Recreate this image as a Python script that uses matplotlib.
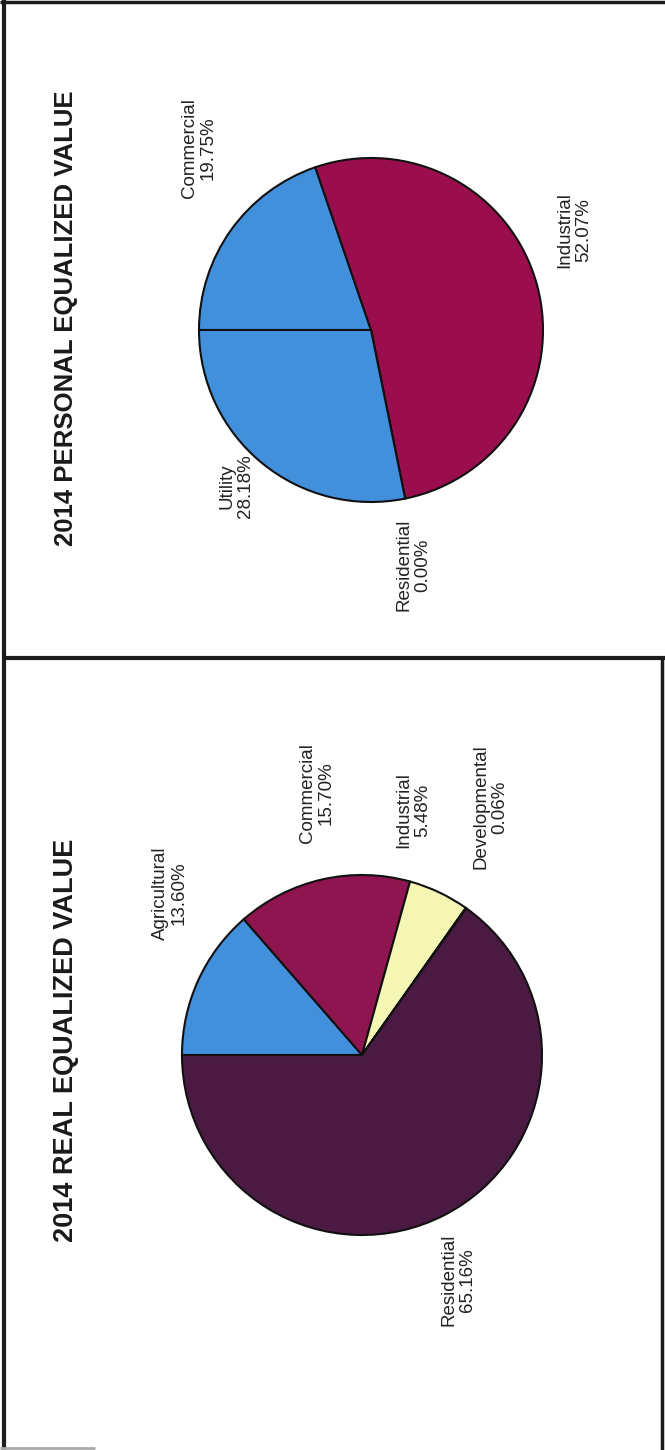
import matplotlib
matplotlib.use("Agg")
import matplotlib.pyplot as plt

# ─── Dati ────────────────────────────────────────────────────────────────────
personal_labels = ["Commercial", "Industrial", "Residential", "Utility"]
personal_values = [19.75, 52.07, 0.00, 28.18]
personal_colors = ["#4290dc", "#9a0e4e", "#9a0e4e", "#4290dc"]

real_labels = ["Agricultural", "Commercial", "Industrial", "Developmental", "Residential"]
real_values = [13.60, 15.70, 5.48, 0.06, 65.16]
real_colors = ["#4290dc", "#8f1550", "#f6f6b4", "#e8e2a0", "#4a1a42"]

# ─── Layout (pixel della pagina, y verso il basso) ──────────────────────────
W, H = 665, 1450
personal_lab_pos = [(199, 148), (574, 230), (413, 565), (236, 486)]
real_lab_pos = [(170, 893), (317, 793), (413, 810), (490, 807), (458, 1280)]

plt.rcParams["font.family"] = ["Liberation Sans", "DejaVu Sans"]

fig = plt.figure(figsize=(W / 100, H / 100), dpi=100)
ax = fig.add_axes([0, 0, 1, 1])


def fy(y):
    # converte y immagine -> y dati
    return H - y


def draw_pie(values, colors, labels, lab_pos, center, radius, title, title_pos, tsize):
    ax.pie(values, colors=colors, startangle=180, counterclock=False,
           center=(center[0], fy(center[1])), radius=radius,
           wedgeprops=dict(edgecolor="#111111", linewidth=1.5),
           normalize=True, frame=True)
    for lab, val, (x, y) in zip(labels, values, lab_pos):
        ax.text(x, fy(y), f"{lab}\n{val:.2f}%", rotation=90,
                ha="center", va="center", multialignment="center",
                fontsize=13.5, color="#222222", linespacing=1.15)
    ax.text(title_pos[0], fy(title_pos[1]), title, rotation=90,
            ha="center", va="center", fontsize=tsize,
            fontweight="bold", color="#1a1a1a")


draw_pie(personal_values, personal_colors, personal_labels, personal_lab_pos,
         (371, 330), 172, "2014 PERSONAL EQUALIZED VALUE", (66, 318), 18.5)
draw_pie(real_values, real_colors, real_labels, real_lab_pos,
         (362, 1055), 180, "2014 REAL EQUALIZED VALUE", (66, 1040), 19.5)

# pie() cambia i limiti: reimposta
ax.set_xlim(0, W)
ax.set_ylim(0, H)
ax.set_aspect("equal")
ax.axis("off")

# ─── Cornici della pagina ────────────────────────────────────────────────────
lc = "#1c1c1c"
ax.plot([4, 4], [fy(0), fy(H)], color=lc, lw=3.0, solid_capstyle="butt")
ax.plot([0, W], [fy(2), fy(2)], color=lc, lw=2.5, solid_capstyle="butt")
ax.plot([4, W], [fy(658), fy(658)], color=lc, lw=3.0, solid_capstyle="butt")
ax.plot([662, 662], [fy(658), fy(H)], color=lc, lw=2.5, solid_capstyle="butt")
ax.plot([0, 95], [fy(1448), fy(1448)], color="#aaaaaa", lw=2.0, solid_capstyle="butt")

fig.savefig("out.png", dpi=100, facecolor="white")
